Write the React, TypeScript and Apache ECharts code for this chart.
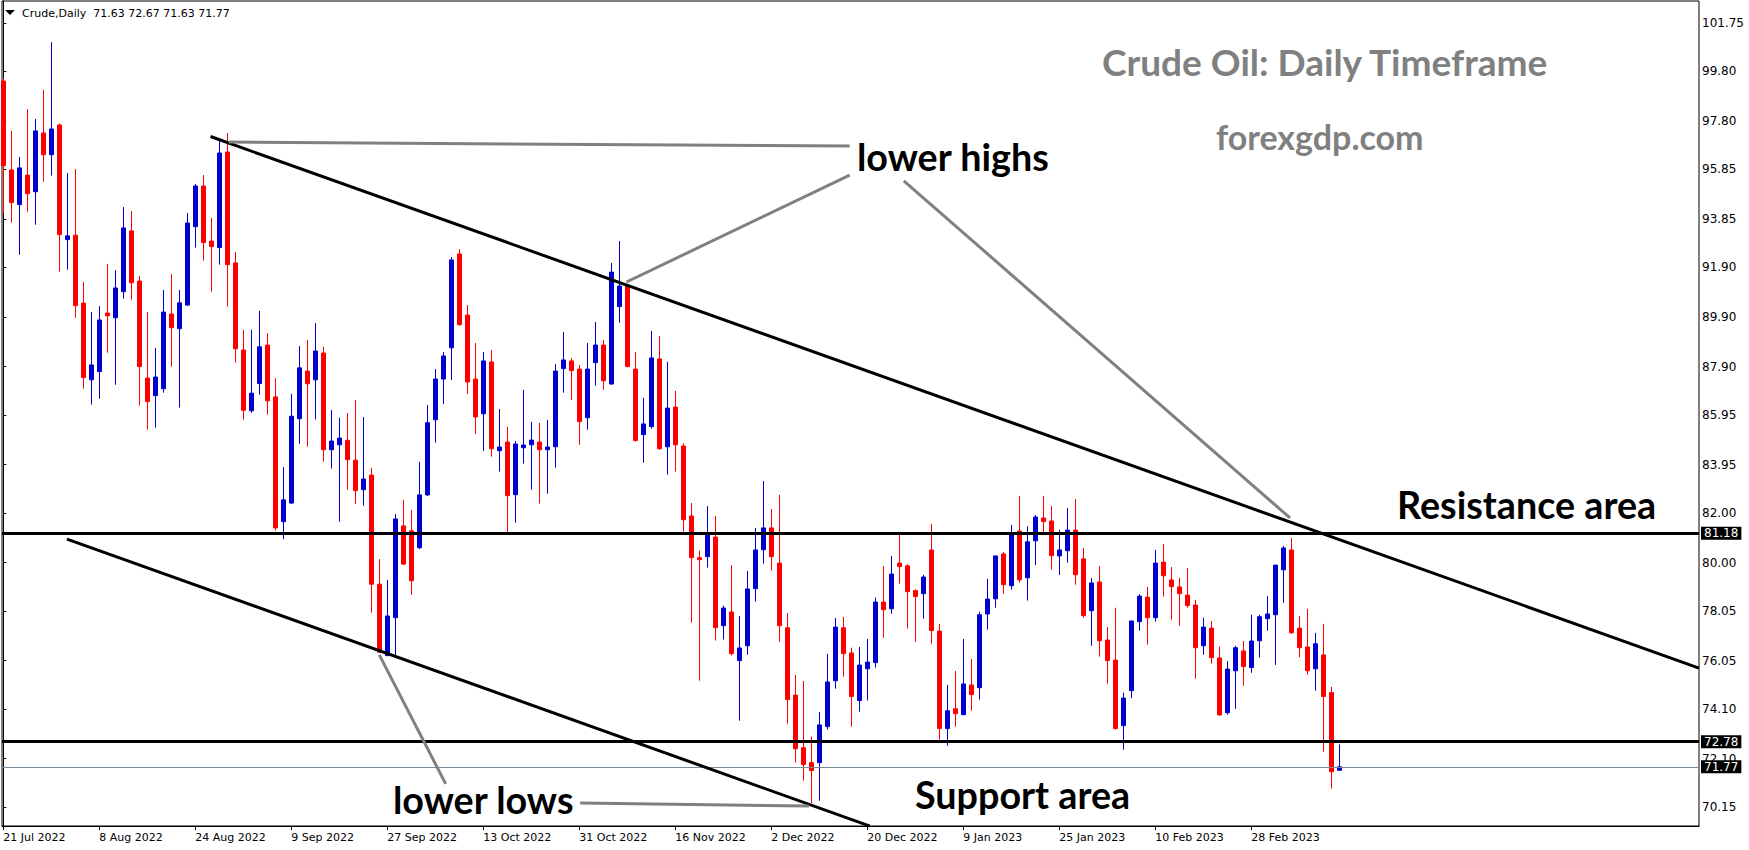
import React, { useEffect, useRef } from 'react';
import * as echarts from 'echarts';

// ---------- data ----------
const SYMBOL = 'Crude';
const TIMEFRAME = 'Daily';
const DATE_LABELS = [
  '21 Jul 2022', '8 Aug 2022', '24 Aug 2022', '9 Sep 2022', '27 Sep 2022', '13 Oct 2022',
  '31 Oct 2022', '16 Nov 2022', '2 Dec 2022', '20 Dec 2022', '9 Jan 2023', '25 Jan 2023',
  '10 Feb 2023', '28 Feb 2023',
];
const DATE_TICK_STEP = 12; // bars between date labels
const PRICE_TICKS = [70.15, 72.10, 74.10, 76.05, 78.05, 80.00, 82.00, 83.95, 85.95, 87.90,
  89.90, 91.90, 93.85, 95.85, 97.80, 99.80, 101.75];

const OPEN = [
  99.41, 95.83, 94.43, 95.62, 94.95, 97.32, 96.44, 97.64, 93.02, 93.20,
  90.46, 87.37, 87.70, 90.06, 89.87, 90.92, 93.37, 91.35, 87.44, 86.73,
  87.01, 90.02, 89.43, 90.38, 93.54, 95.18, 92.96, 92.70, 96.55, 92.08,
  88.57, 86.12, 87.22, 88.77, 86.68, 81.65, 82.40, 85.80, 87.72, 87.37,
  88.45, 84.55, 84.75, 84.93, 84.13, 82.94, 83.53, 79.13, 76.25, 77.78,
  81.48, 81.28, 80.60, 82.73, 85.76, 87.40, 88.66, 92.44, 89.98, 87.40,
  86.00, 88.09, 84.51, 84.86, 82.74, 84.63, 84.75, 84.86, 84.55, 84.67,
  87.82, 88.13, 87.80, 85.84, 88.06, 88.77, 87.20, 90.32, 91.15, 87.80,
  85.16, 85.48, 88.21, 84.67, 86.27, 84.70, 81.88, 80.20, 80.24, 81.03,
  77.46, 78.01, 76.05, 76.65, 78.95, 80.52, 81.40, 79.98, 77.37, 74.66,
  72.54, 71.94, 71.94, 73.39, 75.24, 77.37, 76.36, 74.44, 75.72, 75.97,
  78.41, 78.14, 79.98, 79.87, 78.87, 78.75, 80.51, 77.24, 73.31, 74.11,
  73.87, 75.07, 74.96, 77.93, 78.54, 80.35, 79.07, 81.27, 79.39, 80.88,
  81.80, 81.68, 80.27, 80.48, 81.31, 80.15, 78.06, 79.22, 76.88, 76.07,
  73.43, 74.84, 77.62, 78.61, 77.78, 80.02, 79.30, 79.02, 78.69, 78.29,
  76.65, 77.36, 76.16, 73.95, 75.64, 76.44, 75.77, 76.85, 77.74, 77.90,
  79.71, 80.51, 77.36, 76.60, 75.72, 76.28, 74.76, 71.63,
];
const HIGH = [
  99.53, 97.40, 96.35, 98.28, 97.88, 99.05, 100.98, 97.70, 95.70, 95.86,
  91.31, 90.10, 90.34, 92.04, 91.79, 94.33, 94.17, 91.55, 90.10, 88.65,
  90.99, 91.63, 90.99, 94.09, 95.26, 95.62, 93.89, 96.99, 97.32, 92.52,
  89.38, 89.39, 90.15, 89.25, 87.43, 83.85, 86.80, 88.73, 88.97, 89.65,
  88.70, 86.15, 85.84, 86.03, 86.55, 85.87, 83.81, 80.14, 79.30, 81.96,
  82.53, 82.13, 84.06, 86.35, 87.80, 88.49, 92.32, 92.64, 90.38, 88.85,
  88.49, 88.57, 86.19, 85.47, 84.90, 86.96, 85.67, 85.63, 85.75, 88.00,
  89.30, 88.25, 87.97, 88.85, 89.70, 88.97, 92.08, 92.96, 91.23, 88.49,
  86.64, 89.34, 89.13, 88.09, 86.92, 84.81, 82.40, 80.48, 82.28, 81.88,
  78.27, 79.90, 77.85, 79.66, 81.40, 83.29, 82.16, 82.73, 77.97, 75.47,
  75.23, 72.99, 73.98, 76.32, 77.77, 77.81, 76.57, 76.60, 76.92, 78.59,
  79.86, 80.27, 81.15, 79.94, 78.92, 79.51, 81.56, 77.53, 75.07, 75.63,
  76.92, 76.11, 78.02, 79.35, 80.27, 80.43, 81.52, 82.69, 81.47, 81.92,
  82.69, 82.28, 81.31, 82.20, 82.56, 80.59, 79.38, 79.86, 77.40, 78.18,
  74.76, 77.65, 78.73, 79.02, 80.51, 80.75, 79.82, 79.38, 79.78, 78.49,
  77.78, 77.65, 76.61, 76.03, 76.65, 76.84, 77.90, 77.90, 78.65, 79.90,
  80.67, 80.99, 77.85, 78.14, 77.17, 77.53, 74.99, 72.67,
];
const LOW = [
  94.10, 93.70, 92.41, 94.15, 93.62, 95.35, 95.60, 91.73, 91.81, 89.87,
  87.01, 86.37, 86.61, 88.46, 87.17, 90.64, 90.60, 86.33, 85.36, 85.44,
  86.85, 87.90, 86.25, 90.34, 92.70, 92.17, 90.92, 92.01, 90.32, 88.06,
  85.76, 86.04, 86.77, 85.97, 81.29, 80.94, 82.36, 84.79, 84.67, 85.77,
  84.07, 83.79, 81.65, 82.94, 82.37, 82.29, 77.98, 76.39, 76.25, 76.25,
  79.90, 78.70, 80.55, 82.68, 84.84, 86.39, 87.36, 89.55, 86.80, 85.18,
  84.50, 84.27, 83.67, 81.22, 81.61, 83.99, 82.94, 82.38, 82.78, 83.83,
  86.85, 86.55, 84.75, 85.36, 87.13, 86.97, 87.17, 89.67, 87.90, 84.88,
  84.03, 85.40, 84.55, 83.55, 83.67, 81.25, 77.58, 75.24, 79.80, 76.86,
  76.90, 76.25, 73.63, 76.29, 78.43, 79.96, 79.68, 76.81, 73.51, 71.94,
  71.21, 70.30, 70.40, 73.27, 74.92, 75.40, 73.39, 73.99, 74.44, 75.77,
  76.97, 77.94, 79.15, 77.34, 76.81, 77.74, 76.73, 72.86, 72.62, 73.39,
  73.87, 74.03, 74.48, 77.30, 78.18, 78.75, 78.91, 79.19, 78.47, 79.90,
  81.11, 79.72, 79.50, 80.00, 79.11, 77.78, 76.65, 76.21, 75.12, 73.27,
  72.46, 74.54, 77.26, 76.69, 77.62, 78.63, 77.70, 77.46, 78.18, 75.32,
  76.29, 75.93, 73.83, 73.87, 74.11, 75.04, 75.56, 76.17, 77.26, 75.88,
  78.38, 77.13, 76.19, 75.48, 74.84, 72.38, 70.89, 71.63,
];
const CLOSE = [
  96.00, 94.51, 95.91, 94.87, 97.40, 96.44, 97.48, 93.22, 93.17, 90.36,
  87.46, 87.97, 89.78, 89.95, 91.07, 93.49, 91.28, 87.90, 86.49, 87.48,
  90.10, 89.47, 90.47, 93.69, 95.18, 92.90, 92.74, 96.51, 92.01, 88.62,
  86.14, 86.83, 88.70, 86.52, 81.40, 82.53, 85.90, 87.85, 87.21, 88.53,
  84.55, 84.90, 85.02, 84.15, 82.90, 83.37, 79.13, 76.39, 77.85, 81.76,
  79.94, 79.27, 82.73, 85.64, 87.40, 88.33, 92.20, 89.59, 87.28, 85.87,
  88.13, 84.59, 84.66, 82.70, 84.78, 84.74, 84.94, 84.55, 84.66, 87.72,
  88.17, 87.74, 85.68, 87.80, 88.77, 87.33, 91.71, 91.15, 87.90, 84.92,
  85.59, 88.25, 84.59, 86.23, 84.75, 81.73, 80.20, 80.12, 81.11, 77.38,
  78.17, 76.33, 76.56, 78.94, 80.51, 81.40, 80.24, 77.46, 74.48, 72.50,
  71.86, 71.62, 73.46, 75.19, 77.40, 76.33, 74.60, 75.87, 75.99, 78.41,
  78.10, 79.54, 79.84, 78.83, 78.63, 79.42, 77.26, 73.31, 74.03, 73.91,
  75.11, 74.68, 77.90, 78.53, 80.27, 79.11, 81.14, 79.31, 80.84, 81.84,
  81.65, 80.28, 80.51, 81.31, 79.51, 77.86, 79.18, 76.85, 76.05, 73.31,
  74.54, 77.65, 78.65, 77.78, 79.98, 79.47, 79.03, 78.75, 78.27, 76.57,
  77.40, 76.17, 73.86, 75.71, 76.57, 75.81, 76.84, 77.82, 77.93, 79.90,
  80.59, 77.17, 76.57, 75.64, 76.73, 74.60, 71.57, 71.77,
];

const RESISTANCE = 81.18;
const SUPPORT = 72.78;
const LAST_PRICE = 71.77;

// trend lines: [bar index, price]
const UPPER_TREND = [[25.9, 97.175], [211.96, 75.75]];
const LOWER_TREND = [[7.96, 80.95], [108.33, 69.38]];
// annotation pointer lines
const HIGHS_LINE_1 = [[28.2, 96.95], [105.8, 96.79]];
const HIGHS_LINE_2 = [[77.9, 91.31], [105.8, 95.62]];
const HIGHS_LINE_3 = [[112.56, 95.39], [160.84, 81.8]];
const LOWS_LINE_1 = [[47.0, 76.28], [55.3, 71.08]];
const LOWS_LINE_2 = [[72.1, 70.31], [100.7, 70.19]];

const TITLE = 'Crude Oil: Daily Timeframe';
const SITE = 'forexgdp.com';

// ---------- styles ----------
const BULL = '#0000CD';
const BEAR = '#FF0000';
const GRAY = '#808080';
const AXIS_FONT = 'DejaVu Sans';
const ANNOT_FONT = 'Lato';

export default function App() {
  const ref = useRef<HTMLDivElement>(null);

  useEffect(() => {
    document.body.style.margin = '0';
    const chart = echarts.init(ref.current!, null, { renderer: 'svg' });

    const candleData = OPEN.map((o, i) => [i, o, CLOSE[i], LOW[i], HIGH[i]]);
    const dateTicks = DATE_LABELS.map((_, k) => k * DATE_TICK_STEP);
    const last = OPEN.length - 1;
    const header = `${SYMBOL},${TIMEFRAME}  ${OPEN[last].toFixed(2)} ${HIGH[last].toFixed(2)} ${LOW[last].toFixed(2)} ${CLOSE[last].toFixed(2)}`;

    const lineSeries = (data: number[][], color: string, width: number) => ({
      type: 'line',
      data,
      symbol: 'none',
      silent: true,
      z: 5,
      lineStyle: { color, width },
      clip: true,
    });

    const priceLabel = {
      show: true,
      position: 'end',
      distance: 2,
      color: '#fff',
      backgroundColor: '#000',
      padding: [1, 3, 0, 3],
      fontSize: 12,
      fontFamily: AXIS_FONT,
    };

    const annot = (text: string, x: number, y: number, color: string, size: number) => ({
      type: 'text',
      x,
      y,
      z: 10,
      silent: true,
      style: {
        text,
        fill: color,
        font: `bold ${size}px ${ANNOT_FONT}`,
        align: 'left',
        verticalAlign: 'middle',
      },
    });

    chart.setOption({
      animation: false,
      backgroundColor: '#fff',
      grid: {
        left: 2, top: 1, right: 50, bottom: 24,
        show: true, borderColor: '#000', borderWidth: 1, backgroundColor: '#fff',
      },
      xAxis: {
        type: 'value',
        min: -0.1625,
        max: 211.96,
        axisLine: { show: true, lineStyle: { color: '#000', width: 1 } },
        axisTick: { show: true, customValues: dateTicks, length: 4, lineStyle: { color: '#000' } },
        axisLabel: {
          customValues: dateTicks,
          formatter: (v: number) => DATE_LABELS[Math.round(v / DATE_TICK_STEP)] ?? '',
          color: '#000',
          fontSize: 11,
          fontFamily: AXIS_FONT,
          align: 'left',
          margin: 6,
        },
        splitLine: { show: false },
      },
      yAxis: {
        type: 'value',
        position: 'right',
        min: 69.384,
        max: 102.637,
        axisLine: { show: true, lineStyle: { color: '#000', width: 1 } },
        axisTick: { show: true, customValues: PRICE_TICKS, length: 3, lineStyle: { color: '#000' } },
        axisLabel: {
          customValues: PRICE_TICKS,
          formatter: (v: number) => v.toFixed(2),
          color: '#000',
          fontSize: 12,
          fontFamily: AXIS_FONT,
          margin: 3,
        },
        splitLine: { show: false },
      },
      series: [
        {
          type: 'candlestick',
          data: candleData,
          barWidth: 4,
          silent: true,
          itemStyle: {
            color: BULL, color0: BEAR, borderColor: BULL, borderColor0: BEAR, borderWidth: 1,
          },
          markLine: {
            silent: true,
            symbol: ['none', 'none'],
            animation: false,
            data: [
              { yAxis: RESISTANCE, lineStyle: { color: '#000', width: 3, type: 'solid' }, label: { ...priceLabel, formatter: RESISTANCE.toFixed(2) } },
              { yAxis: SUPPORT, lineStyle: { color: '#000', width: 3, type: 'solid' }, label: { ...priceLabel, formatter: SUPPORT.toFixed(2) } },
              { yAxis: LAST_PRICE, lineStyle: { color: '#778899', width: 1, type: 'solid' }, label: { ...priceLabel, formatter: LAST_PRICE.toFixed(2) } },
            ],
          },
        },
        lineSeries(UPPER_TREND, '#000', 3),
        lineSeries(LOWER_TREND, '#000', 3),
        lineSeries(HIGHS_LINE_1, GRAY, 3),
        lineSeries(HIGHS_LINE_2, GRAY, 3),
        lineSeries(HIGHS_LINE_3, GRAY, 3),
        lineSeries(LOWS_LINE_1, GRAY, 3),
        lineSeries(LOWS_LINE_2, GRAY, 3),
      ],
      graphic: [
        { type: 'polygon', silent: true, z: 10, shape: { points: [[5, 10], [15, 10], [10, 15]] }, style: { fill: '#000' } },
        {
          type: 'text', x: 22, y: 13, z: 10, silent: true,
          style: { text: header, fill: '#000', font: `11px "${AXIS_FONT}"`, align: 'left', verticalAlign: 'middle' },
        },
        annot(TITLE, 1102, 61, GRAY, 37),
        annot(SITE, 1216, 136, GRAY, 34),
        annot('lower highs', 857, 156, '#000', 37.7),
        annot('Resistance area', 1397, 504, '#000', 37.7),
        annot('Support area', 915, 794, '#000', 37.7),
        annot('lower lows', 393, 799, '#000', 37.7),
      ],
    });

    return () => chart.dispose();
  }, []);

  return <div ref={ref} style={{ width: 1749, height: 850 }} />;
}
